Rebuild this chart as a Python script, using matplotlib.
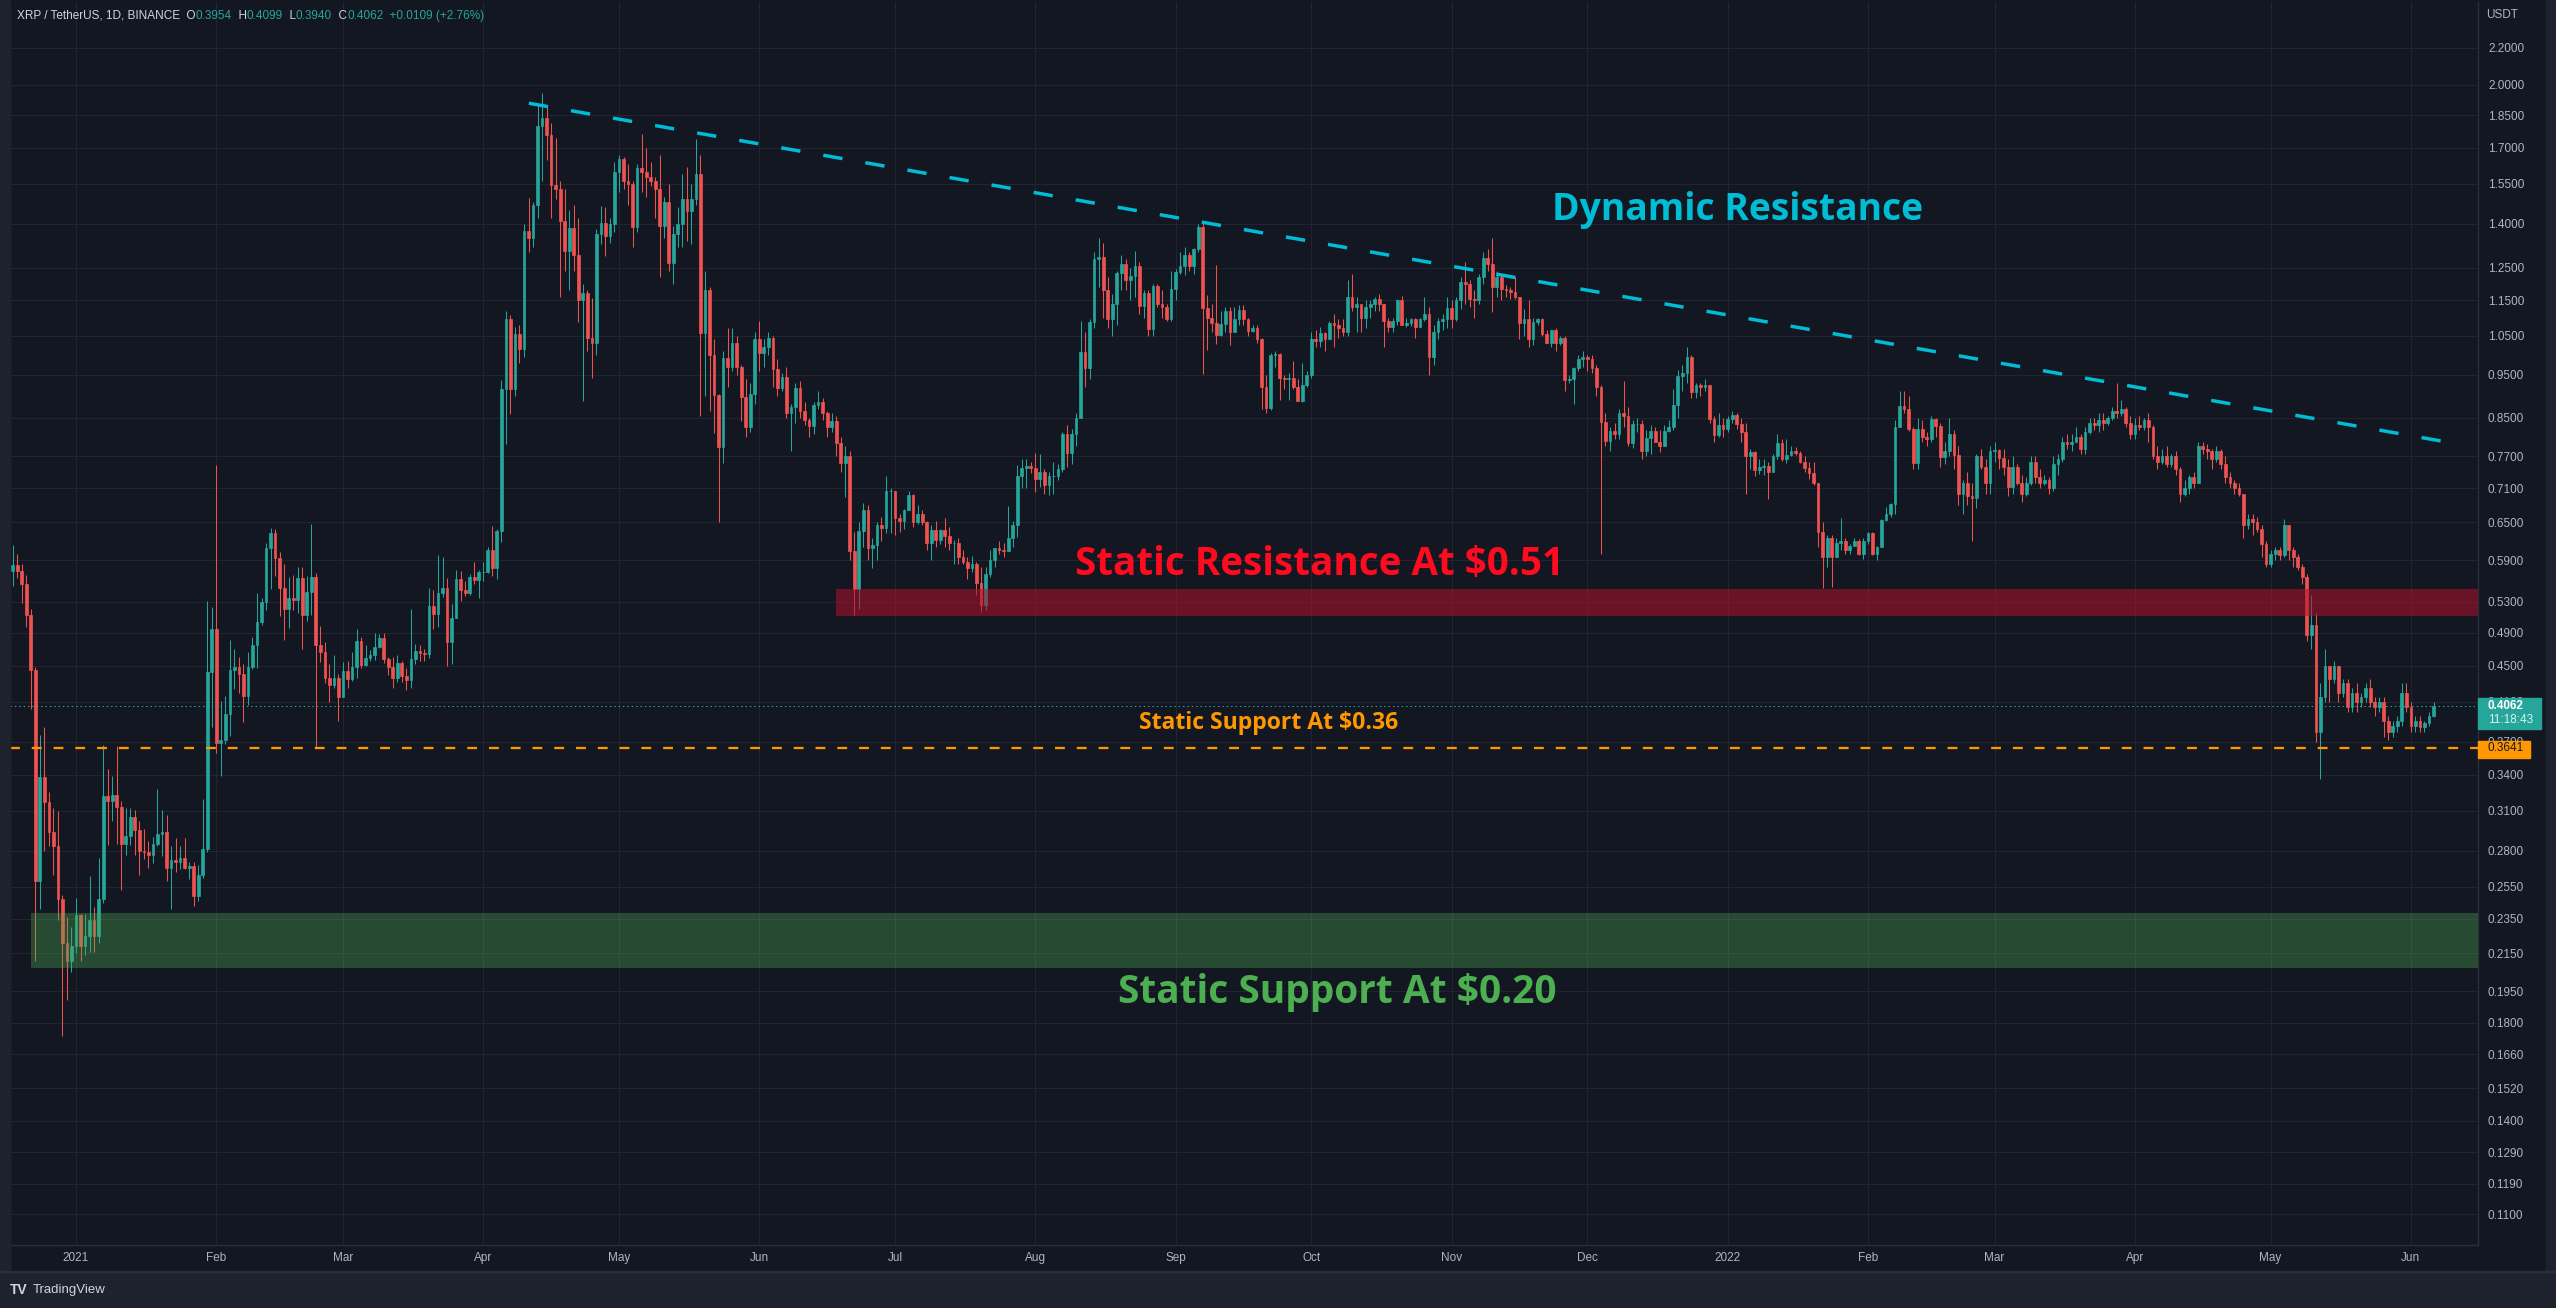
import pandas as pd
import matplotlib
matplotlib.use("Agg")
import matplotlib.pyplot as plt
import matplotlib.dates as mdates
from matplotlib.patches import Rectangle
from matplotlib.ticker import NullLocator
from matplotlib.transforms import blended_transform_factory

plt.rcParams['font.family'] = ['Liberation Sans', 'DejaVu Sans']

# XRP / USDT daily candles, 2020-12-18 .. 2022-06-06 (one row per month)
first_open = 0.574
close = [
    .583, .574, .555, .513, .445, .259, .338, .317, .294, .283, .247, .221, .211, .219,
    .237, .219, .225, .234, .225, .247, .322, .318, .323, .313, .285, .291, .305, .295, .280, .279, .277, .285, .292, .294, .268, .273, .272, .275, .268, .269, .249, .263, .281, .443, .495,
    .369, .372, .398, .445, .449, .441, .416, .448, .475, .504, .530, .609, .633, .594, .549, .521, .536, .533, .564, .513, .544, .565, .474, .466, .436, .428, .436, .415,
    .444, .435, .448, .480, .451, .459, .463, .472, .483, .458, .448, .436, .453, .438, .434, .458, .467, .465, .464, .525, .514, .543, .549, .478, .509, .562, .547, .543, .565, .561, .572,
    .573, .606, .578, .636, .916, 1.096, .916, 1.054, 1.015, 1.374, 1.348, 1.469, 1.799, 1.836, 1.758, 1.546, 1.530, 1.408, 1.306, 1.384, 1.290, 1.152, 1.172, 1.045, 1.030, 1.363, 1.402, 1.357, 1.398, 1.600,
    1.653, 1.560, 1.550, 1.387, 1.615, 1.600, 1.578, 1.560, 1.530, 1.390, 1.480, 1.265, 1.363, 1.400, 1.490, 1.447, 1.490, 1.591, 1.056, 1.180, 1.000, .902, .788, .992, .970, 1.030, .970, .896, .830, .904, 1.040,
    1.005, 1.020, 1.045, .965, .919, .945, .860, .875, .919, .865, .845, .833, .879, .885, .860, .830, .843, .797, .757, .770, .604, .548, .636, .672, .609, .614, .645, .641, .705, .705,
    .657, .652, .672, .697, .650, .664, .650, .617, .637, .622, .637, .628, .617, .617, .595, .587, .578, .584, .556, .526, .570, .591, .609, .606, .604, .624, .646, .732, .747, .752, .747,
    .726, .740, .715, .732, .733, .746, .816, .777, .816, .850, 1.008, .966, 1.088, 1.278, 1.285, 1.181, 1.095, 1.140, 1.234, 1.262, 1.210, 1.225, 1.255, 1.133, 1.172, 1.069, 1.193, 1.140, 1.130, 1.095, 1.185,
    1.238, 1.255, 1.292, 1.255, 1.310, 1.389, 1.127, 1.098, 1.086, 1.053, 1.083, 1.119, 1.061, 1.095, 1.122, 1.095, 1.064, 1.072, 1.040, .920, .872, 1.000, 1.003, .943, .939, .942, .920, .888, .924, .950,
    1.040, 1.035, 1.058, 1.040, 1.085, 1.078, 1.070, 1.060, 1.161, 1.130, 1.140, 1.100, 1.130, 1.140, 1.153, 1.140, 1.090, 1.075, 1.090, 1.150, 1.080, 1.085, 1.095, 1.075, 1.095, 1.110, .993, 1.060, 1.090, 1.095, 1.127,
    1.095, 1.150, 1.206, 1.200, 1.155, 1.150, 1.220, 1.281, 1.262, 1.190, 1.220, 1.185, 1.180, 1.175, 1.160, 1.085, 1.095, 1.040, 1.088, 1.095, 1.055, 1.030, 1.065, 1.030, 1.045, .937, .940, .967, .990, .995,
    .990, .967, .920, .842, .802, .822, .815, .860, .855, .798, .837, .837, .780, .807, .822, .800, .792, .822, .830, .878, .947, .955, .995, .909, .925, .920, .925, .847, .813, .835, .826,
    .848, .857, .838, .820, .770, .779, .743, .750, .752, .740, .770, .797, .766, .772, .780, .777, .760, .748, .738, .720, .635, .595, .625, .595, .617, .620, .606, .612, .620, .600, .620,
    .632, .600, .610, .654, .664, .682, .830, .877, .870, .826, .758, .826, .810, .805, .848, .833, .768, .780, .816, .772, .700, .720, .695, .693, .770, .750, .720, .780,
    .782, .767, .750, .712, .750, .720, .700, .720, .760, .730, .720, .725, .710, .755, .765, .800, .795, .800, .810, .785, .820, .840, .835, .845, .840, .850, .865, .860, .870, .840, .815,
    .835, .830, .845, .830, .770, .760, .770, .755, .770, .745, .700, .710, .730, .720, .790, .785, .780, .765, .780, .755, .730, .720, .710, .700, .645, .655, .650, .640, .615, .585,
    .600, .605, .598, .645, .605, .595, .580, .565, .487, .500, .380, .415, .450, .435, .450, .420, .430, .405, .420, .410, .415, .425, .410, .405, .410, .390, .380, .385, .390, .420, .405,
    .385, .390, .384, .388, .3954, .4062,
]
high = [
    .614, .600, .585, .568, .521, .449, .377, .384, .325, .312, .310, .250, .236, .230,
    .248, .238, .238, .262, .242, .275, .367, .345, .339, .366, .318, .312, .312, .311, .302, .296, .287, .290, .328, .311, .307, .283, .289, .283, .289, .272, .272, .270, .320, .531, .523,
    .754, .411, .416, .481, .470, .460, .452, .466, .485, .542, .535, .616, .641, .639, .603, .585, .565, .568, .580, .580, .566, .647, .571, .498, .478, .452, .462, .440,
    .454, .455, .466, .494, .485, .474, .468, .490, .488, .489, .460, .460, .462, .456, .447, .521, .476, .475, .470, .549, .547, .598, .595, .563, .527, .575, .574, .560, .570, .587, .575,
    .587, .610, .644, .640, .938, 1.120, 1.107, 1.074, 1.080, 1.398, 1.494, 1.480, 1.904, 1.960, 1.889, 1.811, 1.742, 1.560, 1.530, 1.450, 1.470, 1.420, 1.200, 1.180, 1.156, 1.380, 1.464, 1.460, 1.420, 1.640,
    1.670, 1.660, 1.630, 1.560, 1.630, 1.760, 1.700, 1.640, 1.580, 1.670, 1.500, 1.550, 1.390, 1.460, 1.590, 1.620, 1.550, 1.740, 1.670, 1.240, 1.190, 1.040, .905, 1.010, 1.070, 1.070, 1.050, .975, .940, .930, 1.060,
    1.090, 1.040, 1.060, 1.050, .990, .955, .970, .880, .930, .935, .885, .850, .885, .910, .895, .865, .860, .855, .810, .790, .780, .635, .650, .683, .680, .625, .650, .660, .732, .710,
    .705, .665, .673, .705, .700, .680, .672, .652, .645, .652, .640, .657, .642, .622, .625, .605, .595, .597, .588, .580, .580, .605, .609, .620, .617, .678, .652, .753, .765, .765, .760,
    .777, .775, .745, .740, .760, .755, .820, .835, .826, .860, 1.089, 1.060, 1.095, 1.300, 1.350, 1.332, 1.220, 1.170, 1.240, 1.290, 1.280, 1.250, 1.306, 1.270, 1.180, 1.180, 1.200, 1.200, 1.180, 1.140, 1.240,
    1.245, 1.300, 1.320, 1.300, 1.315, 1.400, 1.410, 1.165, 1.140, 1.260, 1.120, 1.130, 1.130, 1.130, 1.135, 1.135, 1.100, 1.080, 1.080, 1.045, .950, 1.005, 1.010, 1.004, .950, .955, .985, .940, .980, .960,
    1.060, 1.065, 1.075, 1.060, 1.090, 1.110, 1.095, 1.095, 1.210, 1.230, 1.160, 1.140, 1.150, 1.150, 1.160, 1.170, 1.140, 1.100, 1.100, 1.153, 1.163, 1.100, 1.100, 1.100, 1.100, 1.160, 1.130, 1.080, 1.100, 1.110, 1.160,
    1.150, 1.160, 1.220, 1.270, 1.210, 1.180, 1.230, 1.300, 1.310, 1.350, 1.240, 1.230, 1.195, 1.190, 1.220, 1.160, 1.125, 1.150, 1.100, 1.100, 1.100, 1.065, 1.065, 1.070, 1.050, 1.050, .950, .968, 1.000, 1.010,
    1.000, 1.000, .975, .925, .860, .830, .840, .870, .935, .875, .845, .850, .845, .825, .835, .830, .825, .835, .845, .916, .962, .975, 1.019, 1.000, .930, .930, .940, .925, .855, .860, .850,
    .855, .865, .862, .850, .840, .785, .780, .765, .765, .760, .775, .815, .805, .805, .790, .788, .780, .770, .760, .760, .720, .650, .630, .630, .625, .657, .625, .615, .625, .623, .625,
    .634, .635, .612, .656, .676, .684, .845, .910, .910, .900, .830, .850, .845, .820, .855, .850, .840, .800, .850, .825, .790, .725, .740, .720, .775, .785, .765, .790,
    .800, .785, .785, .765, .770, .755, .735, .730, .770, .770, .745, .735, .730, .770, .775, .810, .815, .815, .830, .815, .830, .850, .850, .860, .860, .855, .875, .930, .890, .875, .855,
    .850, .855, .850, .860, .835, .790, .785, .790, .775, .780, .750, .725, .735, .740, .800, .800, .795, .785, .790, .785, .770, .740, .725, .720, .700, .665, .665, .660, .645, .620,
    .605, .610, .610, .655, .645, .610, .600, .585, .570, .540, .515, .430, .470, .450, .455, .450, .435, .435, .425, .430, .420, .430, .435, .415, .415, .415, .395, .390, .395, .430, .430,
    .410, .395, .395, .390, .400, .4099,
]
low = [
    .552, .564, .529, .497, .403, .211, .241, .280, .283, .263, .234, .174, .191, .205,
    .215, .211, .214, .216, .216, .221, .245, .284, .302, .285, .253, .277, .284, .277, .263, .274, .268, .271, .283, .276, .259, .241, .265, .267, .267, .260, .243, .246, .261, .279, .384,
    .360, .339, .368, .376, .424, .420, .389, .407, .446, .447, .500, .519, .548, .567, .511, .481, .496, .519, .515, .470, .505, .513, .364, .454, .430, .410, .425, .390,
    .416, .425, .433, .436, .447, .450, .455, .457, .471, .453, .439, .425, .432, .432, .423, .425, .452, .455, .455, .459, .494, .497, .537, .450, .452, .508, .531, .538, .540, .555, .535,
    .560, .571, .567, .562, .618, .796, .859, .899, .980, .995, 1.300, 1.320, 1.420, 1.560, 1.650, 1.420, 1.490, 1.160, 1.240, 1.180, 1.240, 1.088, .888, 1.010, .943, 1.000, 1.330, 1.289, 1.332, 1.370,
    1.520, 1.530, 1.470, 1.320, 1.370, 1.520, 1.500, 1.540, 1.420, 1.220, 1.350, 1.240, 1.200, 1.320, 1.320, 1.340, 1.330, 1.470, .854, .900, .865, .818, .650, .758, .920, .960, .950, .844, .810, .820, .880,
    .960, .970, 1.000, .920, .900, .910, .850, .780, .840, .850, .835, .810, .815, .870, .845, .810, .820, .770, .740, .694, .590, .513, .520, .610, .590, .578, .590, .620, .633, .632,
    .630, .634, .640, .672, .642, .648, .645, .605, .590, .610, .615, .610, .605, .585, .585, .585, .562, .572, .540, .517, .519, .565, .580, .600, .595, .604, .610, .627, .710, .710, .738,
    .702, .712, .700, .698, .700, .725, .740, .750, .755, .790, .850, .920, .940, 1.070, 1.190, 1.100, 1.070, 1.050, 1.080, 1.180, 1.180, 1.150, 1.160, 1.110, 1.100, 1.050, 1.050, 1.130, 1.100, 1.090, 1.090,
    1.150, 1.230, 1.228, 1.240, 1.230, 1.300, .951, 1.012, 1.060, 1.028, 1.050, 1.060, 1.025, 1.060, 1.080, 1.080, 1.050, 1.060, 1.030, .870, .860, .868, .970, .890, .915, .890, .915, .887, .885, .920,
    .943, 1.020, 1.020, 1.010, 1.040, 1.020, 1.045, 1.050, 1.050, 1.120, 1.060, 1.060, 1.070, 1.100, 1.120, 1.120, 1.020, 1.060, 1.060, 1.080, 1.080, 1.075, 1.077, 1.045, 1.075, 1.090, .948, .975, 1.040, 1.065, 1.070,
    1.070, 1.090, 1.125, 1.140, 1.130, 1.100, 1.140, 1.200, 1.240, 1.117, 1.160, 1.150, 1.160, 1.155, 1.155, 1.040, 1.050, 1.020, 1.025, 1.080, 1.050, 1.030, 1.020, 1.010, 1.025, .910, .930, .880, .960, .970,
    .960, .955, .900, .600, .790, .780, .805, .805, .830, .790, .787, .820, .765, .770, .775, .800, .778, .800, .820, .825, .850, .910, .930, .895, .895, .900, .910, .840, .800, .810, .810,
    .820, .840, .826, .800, .700, .745, .733, .737, .735, .690, .740, .765, .762, .757, .770, .772, .757, .740, .727, .715, .610, .549, .580, .551, .600, .605, .600, .600, .617, .598, .592,
    .615, .598, .590, .610, .653, .660, .665, .840, .860, .822, .745, .745, .800, .790, .800, .810, .750, .755, .770, .745, .680, .665, .680, .620, .675, .745, .700, .700,
    .760, .745, .735, .695, .700, .715, .685, .695, .715, .720, .710, .715, .700, .705, .735, .760, .785, .780, .800, .775, .775, .815, .825, .820, .825, .835, .845, .850, .855, .830, .805,
    .805, .825, .825, .800, .765, .745, .755, .750, .750, .735, .685, .695, .700, .710, .720, .775, .765, .745, .760, .745, .720, .710, .700, .695, .625, .640, .630, .635, .595, .580,
    .580, .590, .590, .595, .590, .580, .575, .555, .480, .470, .370, .336, .410, .410, .430, .410, .415, .400, .400, .400, .405, .410, .405, .395, .400, .375, .372, .375, .380, .385, .400,
    .380, .380, .380, .380, .385, .394,
]

month_labels = ["2021", "Feb", "Mar", "Apr", "May", "Jun", "Jul", "Aug", "Sep",
                "Oct", "Nov", "Dec", "2022", "Feb", "Mar", "Apr", "May", "Jun"]
price_ticks = [2.2, 2.0, 1.85, 1.7, 1.55, 1.4, 1.25, 1.15, 1.05, 0.95, 0.85,
               0.77, 0.71, 0.65, 0.59, 0.53, 0.49, 0.45, 0.41, 0.37, 0.34,
               0.31, 0.28, 0.255, 0.235, 0.215, 0.195, 0.18, 0.166, 0.152,
               0.14, 0.129, 0.119, 0.11]

last_price = 0.4062
support_price = 0.3641
resist_zone = (0.5106, 0.548)
support_zone = (0.2070, 0.2385)
trend_dates = ["2021-04-11 02:00", "2022-06-10 12:00"]
trend_prices = [1.907, 0.7966]

UP = '#26a69a'
DOWN = '#ef5350'
BG = '#131722'
PANEL = '#1e222d'
LINE = '#2a2e39'
TXT = '#b2b5be'
W, H = 2556, 1308

dates = pd.date_range("2020-12-18", periods=len(close), freq="D")
x = mdates.date2num(dates.to_pydatetime())
opens = [first_open] + close[:-1]
hi = [max(h, o, c) for h, o, c in zip(high, opens, close)]
lo = [min(l, o, c) for l, o, c in zip(low, opens, close)]
colors = [UP if c >= o else DOWN for o, c in zip(opens, close)]
bottoms = [min(o, c) for o, c in zip(opens, close)]
heights = [abs(c - o) for o, c in zip(opens, close)]


def dnum(s):
    return mdates.date2num(pd.Timestamp(s).to_pydatetime())


fig = plt.figure(figsize=(W / 100, H / 100), dpi=100, facecolor=BG)
ax = fig.add_axes([10 / W, 1 - 1245 / H, 2468 / W, 1243 / H])
ax.set_facecolor(BG)

# candles
ax.vlines(x, lo, hi, colors=colors, lw=0.75, zorder=2)
ax.bar(x, heights, bottom=bottoms, width=0.6, color=colors,
       edgecolor=colors, linewidth=0.5, zorder=2)

ax.set_yscale('log')
x0 = dnum("2021-01-01")
ax.set_xlim(x0 - 14.59, x0 + 530.83)
ax.set_ylim(0.1017, 2.473)

# zones, lines
ax.fill_between([dnum("2021-06-17 23:00"), x0 + 530.83], resist_zone[0],
                resist_zone[1], color='#b2102a', alpha=0.55, lw=0, zorder=3)
ax.fill_between([dnum("2020-12-22 01:30"), x0 + 530.83], support_zone[0],
                support_zone[1], color='#4caf50', alpha=0.35, lw=0, zorder=3)
ax.axhline(support_price, color='#ff9800', lw=1.65, ls=(0, (4.3, 5.2)), zorder=4)
ax.axhline(last_price, color=UP, lw=0.75, ls=(0, (1.4, 2.8)), zorder=4)
ax.plot([dnum(d) for d in trend_dates], trend_prices, color='#00bcd4', lw=2.5,
        ls=(0, (5.6, 6.7)), zorder=4)

ann = dict(family=['Open Sans', 'DejaVu Sans'], fontweight='bold',
           va='baseline', ha='left', zorder=5)
ax.text(dnum("2021-11-23 05:00"), 1.413, "Dynamic Resistance", color='#00bcd4',
        fontsize=26.8, **ann)
ax.text(dnum("2021-08-09 19:00"), 0.568, "Static Resistance At $0.51",
        color='#ff0a1e', fontsize=27.8, **ann)
ax.text(dnum("2021-08-24"), 0.3824, "Static Support At $0.36", color='#ff9800',
        fontsize=16.6, **ann)
ax.text(dnum("2021-08-19 07:00"), 0.1894, "Static Support At $0.20",
        color='#4caf50', fontsize=28, **ann)

# axes styling
ax.yaxis.tick_right()
ax.set_yticks(price_ticks)
ax.set_yticklabels([f"{t:.4f}" for t in price_ticks])
ax.yaxis.set_minor_locator(NullLocator())
ax.tick_params(axis='y', length=0, pad=7.2, labelsize=8.5, labelcolor=TXT)
month_ticks = pd.date_range("2021-01-01", "2022-06-01", freq="MS")
ax.set_xticks(mdates.date2num(month_ticks.to_pydatetime()))
ax.set_xticklabels(month_labels)
ax.tick_params(axis='x', length=0, pad=5.3, labelsize=8.5, labelcolor=TXT)
ax.grid(True, color='#22252f', lw=0.8)
ax.set_axisbelow(True)
for s in ['top', 'left']:
    ax.spines[s].set_visible(False)
for s in ['right', 'bottom']:
    ax.spines[s].set_color(LINE)
    ax.spines[s].set_linewidth(1)

# price labels on the axis
bt = blended_transform_factory(ax.transAxes, ax.transData)
ax.add_patch(Rectangle((1.0, 0.3828), 63 / 2468, 0.4138 - 0.3828, transform=bt,
                       color=UP, clip_on=False, zorder=6))
ax.text(1 + 10 / 2468, last_price, "0.4062", transform=bt, color='white',
        fontsize=8.5, fontweight='bold', va='center', clip_on=False, zorder=7)
ax.text(1 + 10 / 2468, 0.3917, "11:18:43", transform=bt, color='#d8f2ef',
        fontsize=8.5, va='center', clip_on=False, zorder=7)
ax.add_patch(Rectangle((1.0, 0.3555), 52 / 2468, 0.3707 - 0.3555, transform=bt,
                       color='#ff9800', clip_on=False, zorder=6))
ax.text(1 + 10 / 2468, support_price, "0.3641", transform=bt, color=BG,
        fontsize=8.5, va='center', clip_on=False, zorder=7)

# frame
fig.patches.append(Rectangle((0, 0), 1, 36 / H, transform=fig.transFigure,
                             color=PANEL, zorder=0))
fig.patches.append(Rectangle((0, 0), 10 / W, 1, transform=fig.transFigure,
                             color=PANEL, zorder=0))
fig.patches.append(Rectangle((2546 / W, 0), 10 / W, 1, transform=fig.transFigure,
                             color=PANEL, zorder=0))
fig.patches.append(Rectangle((0, 36 / H), 1, 1.2 / H, transform=fig.transFigure,
                             color=LINE, zorder=1))

# header
t = fig.text(17 / W, 1 - 16 / H, "XRP / TetherUS, 1D, BINANCE", color='#d1d4dc',
             fontsize=8.5, va='center')
for s, c in [("  O", '#d1d4dc'), ("0.3954", UP), ("  H", '#d1d4dc'), ("0.4099", UP),
             ("  L", '#d1d4dc'), ("0.3940", UP), ("  C", '#d1d4dc'), ("0.4062", UP),
             ("  +0.0109 (+2.76%)", UP)]:
    t = ax.annotate(s, xy=(1, 0), xycoords=t, ha='left', va='bottom', color=c,
                    fontsize=8.5, annotation_clip=False)
fig.text(2486 / W, 1 - 15 / H, "USDT", color=TXT, fontsize=8.5, va='center')
fig.text(10 / W, 1 - 1290 / H, "TV", color='#d1d4dc', fontsize=10,
         fontweight='bold', va='center')
fig.text(33 / W, 1 - 1290 / H, "TradingView", color='#d1d4dc', fontsize=9.5,
         va='center')

fig.savefig("out.png", dpi=100, facecolor=fig.get_facecolor())
